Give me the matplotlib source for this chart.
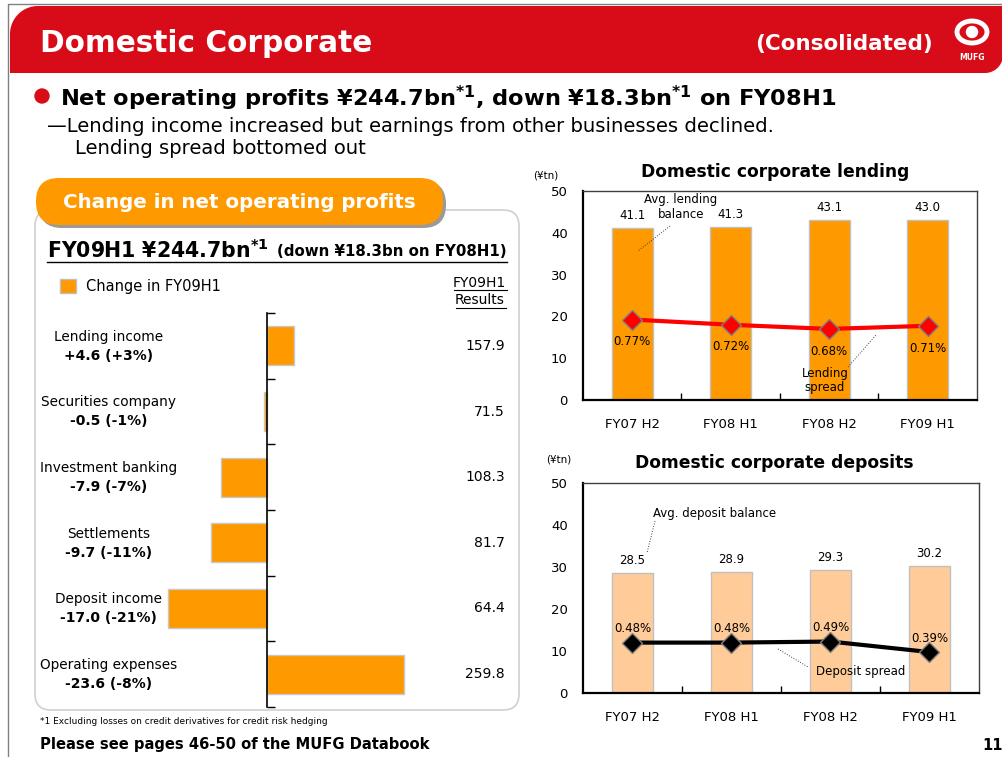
"""Domestic Corporate slide: net operating profit changes, lending and deposits"""

import numpy as np
import matplotlib
matplotlib.use('Agg')
import matplotlib.pyplot as plt
import matplotlib.patches as mpatches
import matplotlib.transforms as mtransforms

plt.rcParams['font.family'] = ['DejaVu Sans']
plt.rcParams['mathtext.default'] = 'bf'

#%% data
items = ['Lending income', 'Securities company', 'Investment banking',
         'Settlements', 'Deposit income', 'Operating expenses']
change = [4.6, -0.5, -7.9, -9.7, -17.0, -23.6]
change_pct = [3, -1, -7, -11, -21, -8]
results = [157.9, 71.5, 108.3, 81.7, 64.4, 259.8]
is_expense = [False, False, False, False, False, True]

periods = ['FY07 H2', 'FY08 H1', 'FY08 H2', 'FY09 H1']
lend_bal = [41.1, 41.3, 43.1, 43.0]
lend_spread = [0.77, 0.72, 0.68, 0.71]
dep_bal = [28.5, 28.9, 29.3, 30.2]
dep_spread = [0.48, 0.48, 0.49, 0.39]

W, H = 1003, 757
RED = '#D80C18'
ORANGE = '#FF9900'
PEACH = '#FFCC99'


def box(x0, y0, x1, y1):
    # pixel box (top-left origin) -> figure fraction
    return [x0 / W, 1 - y1 / H, (x1 - x0) / W, (y1 - y0) / H]


fig = plt.figure(figsize=(W / 100, H / 100), dpi=100)

#%% left bar chart: change in net operating profits
ax = fig.add_axes(box(150, 313, 440, 707))
# lower expenses raise profits, so expense changes are drawn with the sign flipped
impact = [-c if e else c for c, e in zip(change, is_expense)]
ypos = np.arange(len(items)) + 0.5
ax.barh(ypos, impact, height=0.59, color=ORANGE, edgecolor='#C8C8C8', lw=1)
ax.set_ylim(len(items), 0)
ax.set_xlim(-20.1, 29.7)
for s in ['top', 'right', 'bottom']:
    ax.spines[s].set_visible(False)
ax.spines['left'].set_position(('data', 0))
ax.spines['left'].set_linewidth(1.2)
ax.set_yticks(np.arange(len(items) + 1))
ax.set_yticklabels([])
ax.tick_params(axis='y', direction='in', length=6, width=1)
ax.set_xticks([])
trans = mtransforms.blended_transform_factory(ax.transAxes, ax.transData)
for i, name in enumerate(items):
    ax.text(-0.142, ypos[i] - 0.14, name, transform=trans, ha='center', va='center',
            fontsize=9.8)
    ax.text(-0.142, ypos[i] + 0.15, '{:+.1f} ({:+d}%)'.format(change[i], change_pct[i]),
            transform=trans, ha='center', va='center', fontsize=10, fontweight='bold')
    ax.text(1.224, ypos[i], '{:.1f}'.format(results[i]), transform=trans,
            ha='right', va='center', fontsize=10)


#%% right charts
def spread_chart(rect, bal, spread, bar_col, line_col, lab_off):
    a = fig.add_axes(box(*rect))
    x = np.arange(len(periods))
    a.bar(x, bal, width=0.42, color=bar_col, edgecolor='#C0C0C0', lw=1)
    a.set_xlim(-0.5, len(periods) - 0.5)
    a.set_ylim(0, 50)
    a.set_yticks(np.arange(0, 51, 10))
    a.set_xticks(x)
    a.set_xticklabels(periods)
    a.set_xticks(np.arange(len(periods) - 1) + 0.5, minor=True)
    a.tick_params(axis='x', which='major', length=0, pad=13, labelsize=9.5)
    a.tick_params(axis='x', which='minor', direction='in', length=5, width=1)
    a.tick_params(axis='y', length=0, pad=11, labelsize=9.5)
    for s in ['left', 'bottom']:
        a.spines[s].set_linewidth(1.6)
    for s in ['top', 'right']:
        a.spines[s].set_linewidth(1)
        a.spines[s].set_color('#404040')
    for xi, v in zip(x, bal):
        a.annotate('{:.1f}'.format(v), (xi, v), xytext=(0, 9), textcoords='offset points',
                   ha='center', va='center', fontsize=8.5)
    a2 = a.twinx()
    a2.set_ylim(0, 2)
    a2.plot(x, spread, color=line_col, lw=3, marker='D', ms=10, mfc=line_col,
            mec='#808080', mew=1, zorder=3)
    a2.axis('off')
    for xi, v in zip(x, spread):
        a2.annotate('{:.2f}%'.format(v), (xi, v), xytext=(0, lab_off),
                    textcoords='offset points', ha='center', va='center', fontsize=8.5)
    return a


ax_l = spread_chart((583, 191, 977, 400), lend_bal, lend_spread, ORANGE, '#FF0000', -16)
ax_d = spread_chart((583, 483, 979, 693), dep_bal, dep_spread, PEACH, 'black', 10)

#%% slide decoration and text (pixel coordinates)
fg = fig.add_axes([0, 0, 1, 1], zorder=10)
fg.set_xlim(0, W)
fg.set_ylim(H, 0)
fg.axis('off')
fg.patch.set_alpha(0)

# outer border
fg.plot([8.5, 8.5, W], [H, 3.5, 3.5], color='#808080', lw=1)

# red header band with rounded top-left and bottom-right corners
r1, r2 = 28, 18
x0, y0, x1, y1 = 10, 6, W, 73
t = np.linspace(0, np.pi / 2, 20)
pts = [(x0, y1)]
pts += list(zip(x0 + r1 - r1 * np.cos(t), y0 + r1 - r1 * np.sin(t)))
pts += [(x1, y0), (x1, y1 - r2)]
pts += list(zip(x1 - r2 + r2 * np.cos(t), y1 - r2 + r2 * np.sin(t)))
pts += [(x0, y1)]
fg.add_patch(mpatches.Polygon(pts, closed=True, color=RED, lw=0))
fg.text(40, 44, 'Domestic Corporate', color='white', fontsize=21.3, fontweight='bold',
        va='center')
fg.text(933, 44, '(Consolidated)', color='white', fontsize=15.5, fontweight='bold',
        va='center', ha='right')
# MUFG logo
fg.add_patch(mpatches.Ellipse((972, 32), 30, 22, fill=False, ec='white', lw=3.5))
fg.add_patch(mpatches.Circle((972, 32), 5.5, color='white'))
fg.text(972, 58, 'MUFG', color='white', fontsize=5.5, fontweight='bold',
        ha='center', va='center')

# headline
fg.add_patch(mpatches.Circle((42, 96), 7, color=RED))
fg.text(60, 98, r'Net operating profits ¥244.7bn$^{*1}$, down ¥18.3bn$^{*1}$ on FY08H1',
        fontsize=16.2, fontweight='bold', va='center')
fg.text(47, 126, '\u2014Lending income increased but earnings from other businesses declined.',
        fontsize=14.1, va='center')
fg.text(75, 148, 'Lending spread bottomed out', fontsize=14.1, va='center')

# left panel
fg.add_patch(mpatches.FancyBboxPatch((35, 210), 484, 500,
                                     boxstyle='round,pad=0,rounding_size=16',
                                     fc='none', ec='#D0D0D0', lw=1.2))
fg.add_patch(mpatches.FancyBboxPatch((39, 181), 407, 47,
                                     boxstyle='round,pad=0,rounding_size=23',
                                     fc='#9A9A9A', ec='none'))
fg.add_patch(mpatches.FancyBboxPatch((36, 178), 407, 47,
                                     boxstyle='round,pad=0,rounding_size=23',
                                     fc=ORANGE, ec='none'))
fg.text(239, 202, 'Change in net operating profits', color='white', fontsize=14.3,
        fontweight='bold', ha='center', va='center')
fg.text(47, 250, r'FY09H1 ¥244.7bn$^{*1}$', fontsize=14.8, fontweight='bold', va='center')
fg.text(507, 252, '(down ¥18.3bn on FY08H1)', fontsize=10.8, fontweight='bold',
        va='center', ha='right')
fg.plot([47, 507], [262, 262], color='black', lw=1)
fg.add_patch(mpatches.Rectangle((60, 279), 16, 14, fc=ORANGE, ec='#C0C0C0', lw=1))
fg.text(86, 287, 'Change in FY09H1', fontsize=10.5, va='center')
fg.text(506, 283, 'FY09H1', fontsize=10, va='center', ha='right')
fg.plot([454, 507], [290, 290], color='black', lw=0.8)
fg.text(505, 300, 'Results', fontsize=10, va='center', ha='right')
fg.plot([456, 506], [308, 308], color='black', lw=0.8)

# chart titles and annotations
fg.text(546, 175, '(¥tn)', fontsize=7.5, ha='center', va='center')
fg.text(775, 172, 'Domestic corporate lending', fontsize=12.3, fontweight='bold',
        ha='center', va='center')
fg.text(681, 207, 'Avg. lending\nbalance', fontsize=8.5, ha='center', va='center',
        linespacing=1.1)
fg.plot([670, 638], [226, 251], color='#404040', lw=0.7, ls=':')
fg.text(825, 381, 'Lending\nspread', fontsize=8.5, ha='center', va='center',
        linespacing=1.1)
fg.plot([848, 876], [367, 335], color='#404040', lw=0.7, ls=':')

fg.text(559, 460, '(¥tn)', fontsize=7.5, ha='center', va='center')
fg.text(774, 463, 'Domestic corporate deposits', fontsize=12.3, fontweight='bold',
        ha='center', va='center')
fg.text(653, 513, 'Avg. deposit balance', fontsize=8.5, va='center')
fg.plot([655, 647], [521, 553], color='#404040', lw=0.7, ls=':')
fg.text(816, 671, 'Deposit spread', fontsize=8.5, va='center')
fg.plot([778, 808], [649, 667], color='#404040', lw=0.7, ls=':')

# footer
fg.text(40, 721, '*1 Excluding losses on credit derivatives for credit risk hedging',
        fontsize=6.5, va='center')
fg.text(40, 745, 'Please see pages 46-50 of the MUFG Databook', fontsize=10.6,
        fontweight='bold', va='center')
fg.text(1003, 745, '11', fontsize=10.5, fontweight='bold', va='center', ha='right')

plt.savefig('out.png', dpi=100)
